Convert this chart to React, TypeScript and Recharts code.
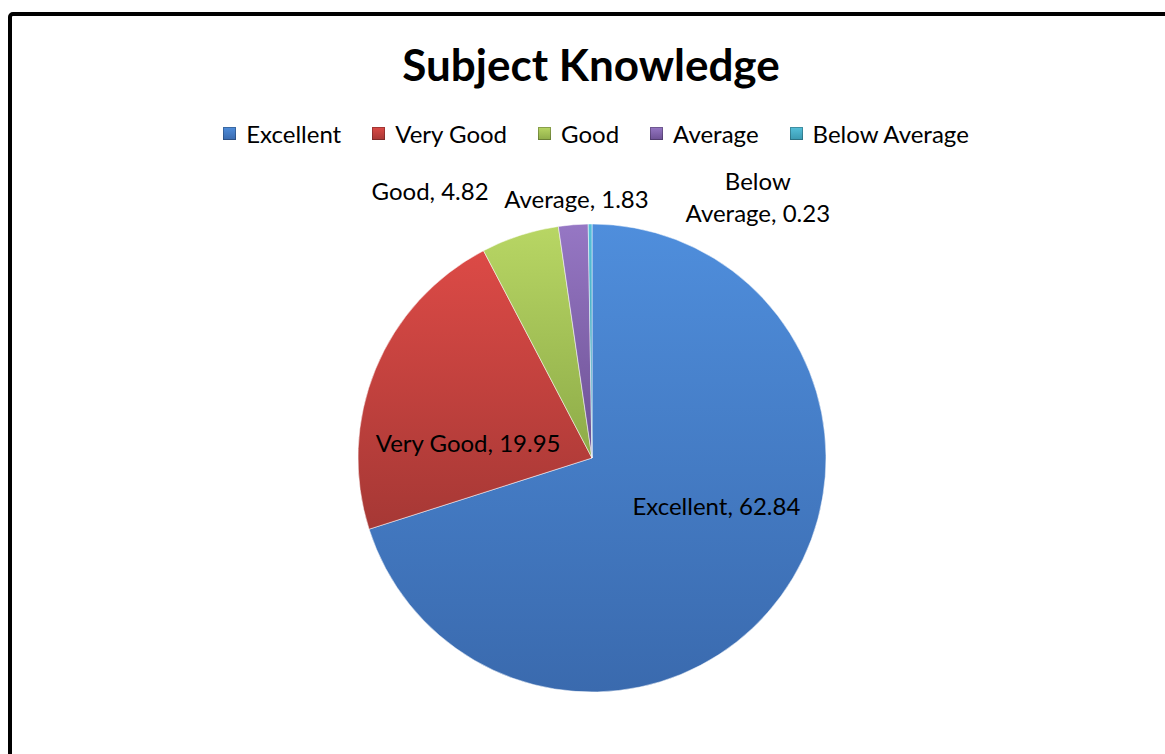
import React from 'react';
import {PieChart, Pie, Cell} from 'recharts';

const categories = ['Excellent', 'Very Good', 'Good', 'Average', 'Below Average'];
const values = [62.84, 19.95, 4.82, 1.83, 0.23];

const colors = [
  ['#4f8edc', '#3a6aae'],
  ['#dc4a46', '#a63835'],
  ['#b8d664', '#8dab48'],
  ['#9677c4', '#6c5093'],
  ['#55c0da', '#3a98b0'],
];

// label placement: radius factor from centre, then a nudge
const labelPlace = [
  {r: 0.6, dx: 11, dy: -35},
  {r: 0.6, dx: 6, dy: 38},
  {r: 1.15, dx: -79, dy: -11},
  {r: 1.15, dx: 6, dy: 9},
  {r: 1.15, dx: 168, dy: 8},
];

const data = categories.map((name, i) => ({name, value: values[i]}));

const RAD = Math.PI / 180;
const font = 'Lato, "Open Sans", sans-serif';

const renderLabel = (props: any) => {
  const {cx, cy, midAngle, outerRadius, index, name, value} = props;
  const p = labelPlace[index];
  const R = outerRadius * p.r;
  const x = cx + R * Math.cos(-midAngle * RAD) + p.dx;
  const y = cy + R * Math.sin(-midAngle * RAD) + p.dy;
  if (name === 'Below Average') {
    return (
      <text x={x} y={y} textAnchor="middle" fontFamily={font} fontSize={24} fill="#000">
        <tspan x={x} dy={-16} dominantBaseline="central">Below</tspan>
        <tspan x={x} dy={32} dominantBaseline="central">{`Average, ${value}`}</tspan>
      </text>
    );
  }
  return (
    <text x={x} y={y} textAnchor="middle" dominantBaseline="central" fontFamily={font} fontSize={24} fill="#000">
      {`${name}, ${value}`}
    </text>
  );
};

const LegendBox = () => (
  <div style={{display: 'flex', justifyContent: 'center', gap: 31, fontFamily: font, fontSize: 24, color: '#000'}}>
    {categories.map((c, i) => (
      <div key={c} style={{display: 'flex', alignItems: 'center'}}>
        <span
          style={{
            width: 13,
            height: 13,
            marginRight: 10,
            background: `linear-gradient(${colors[i][0]}, ${colors[i][1]})`,
            boxShadow: 'inset 0 0 0 1px rgba(0,0,0,0.25)',
          }}
        />
        {c}
      </div>
    ))}
  </div>
);

const App: React.FC = () => {
  return (
    <div style={{position: 'fixed', left: 0, top: 0, width: 1165, height: 754, overflow: 'hidden', background: '#fff'}}>
      <div
        style={{
          position: 'absolute',
          left: 8,
          top: 12,
          width: 1200,
          height: 800,
          border: '4px solid #000',
          borderRadius: 5,
          boxSizing: 'border-box',
        }}
      />
      <div style={{position: 'absolute', left: 0, top: 0}}>
        <PieChart width={1165} height={754} margin={{top: 0, right: 0, bottom: 0, left: 0}}>
          <defs>
            {colors.map((c, i) => (
              <linearGradient key={i} id={`g${i}`} x1="0" y1="0" x2="0" y2="1">
                <stop offset="0%" stopColor={c[0]} />
                <stop offset="100%" stopColor={c[1]} />
              </linearGradient>
            ))}
          </defs>
          <Pie
            data={data}
            dataKey="value"
            nameKey="name"
            cx={592}
            cy={458}
            outerRadius={234}
            startAngle={90}
            endAngle={-270}
            stroke="rgba(255,255,255,0.5)"
            strokeWidth={1}
            label={renderLabel}
            labelLine={false}
            isAnimationActive={false}
          >
            {data.map((d, i) => (
              <Cell key={d.name} fill={`url(#g${i})`} />
            ))}
          </Pie>
        </PieChart>
      </div>
      <div
        style={{
          position: 'absolute',
          left: 0,
          top: 36,
          width: 1182,
          textAlign: 'center',
          fontFamily: font,
          fontWeight: 'bold',
          fontSize: 44,
          lineHeight: '56px',
        }}
      >
        Subject Knowledge
      </div>
      <div style={{position: 'absolute', left: 0, top: 119, width: 1192}}>
        <LegendBox />
      </div>
    </div>
  );
};

export default App;
